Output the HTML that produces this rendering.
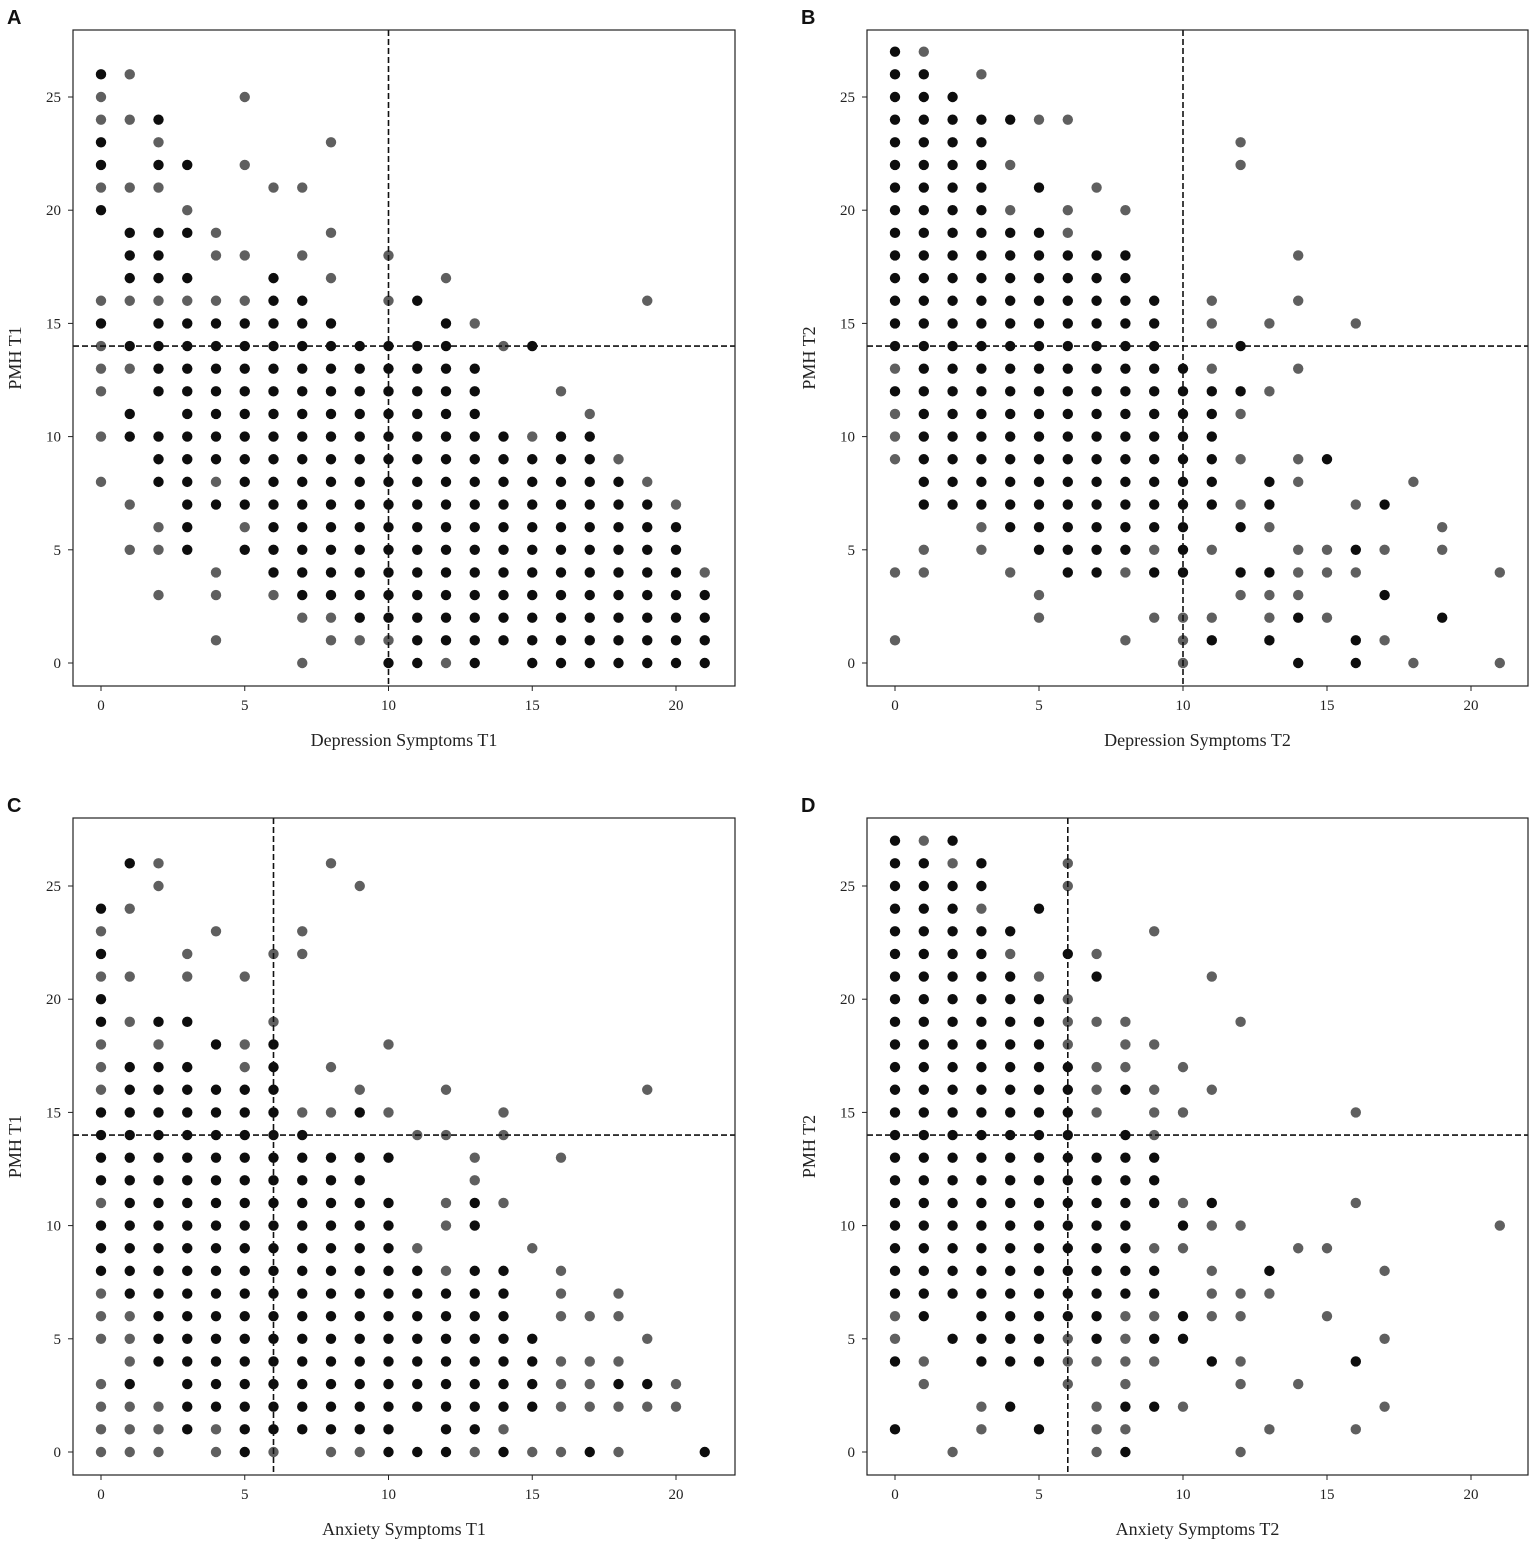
<!DOCTYPE html>
<html><head><meta charset="utf-8"><style>
body{margin:0;background:#fff}
svg{display:block}
</style></head><body>
<svg id="c" width="1535" height="1544" xmlns="http://www.w3.org/2000/svg"></svg>
<script>
// Data: each column string "x:items", item "y" = single (gray), "y*" = dense (dark), "a-b" = dense range
const panelAData = ["0:8,10,12,13,14,15*,16,20*,21,22*,23*,24,25,26*","1:5,7,10*,11*,13,14*,16,17*,18*,19*,21,24,26","2:3,5,6,8*,9*,10*,12*,13*,14*,15*,16,17*,18*,19*,21,22*,23,24*","3:5-15,16,17*,19*,20,22*","4:1,3,4,7*,8,9-15,16,18,19","5:5*,6,7-15,16,18,22,25","6:3,4-16,17*,21","7:0,2,3-16,18,21","8:1,2,3-15,17,19,23","9:1,2-14","10:0*,1,2-14,16,18","11:0*,1-14,16*","12:0,1-15,17","13:0*,1-13,15","14:1-10,14","15:0-9,10,14*","16:0-10,12","17:0-10,11","18:0-8,9","19:0-7,8,16","20:0-6,7","21:0-3,4"];
const panelBData = ["0:1,4,9,10,11,12*,13,14*,15-27","1:4,5,7-26,27","2:7-25","3:5,6,7-24,26","4:4,6-19,20,22,24*","5:2,3,5-19,21*,24","6:4-18,19,20,24","7:4-18,21","8:1,4,5-18,20","9:2,4*,5,6-16","10:0,1,2,4-13","11:1*,2,5,7-12,13,15,16","12:3,4*,6*,7,9,11,12*,14*,22,23","13:1*,2,3,4*,6,7*,8*,12,15","14:0*,2*,3,4,5,8,9,13,16,18","15:2,4,5,9*","16:0*,1*,4,5*,7,15","17:1,3*,5,7*","18:0,8","19:2*,5,6","21:0,4"];
const panelCData = ["0:0,1,2,3,5,6,7,8*,9*,10*,11,12*,13*,14*,15*,16,17,18,19*,20*,21,22*,23,24*","1:0,1,2,3*,4,5,6,7-17,19,21,24,26*","2:0,1,2,4-17,18,19*,25,26","3:1-17,19*,21,22","4:0,1,2-16,18*,23","5:0-16,17,18,21","6:0,1-18,19,22","7:1-14,15,22,23","8:0,1-13,15,17,26","9:0,1-13,15*,16,25","10:0-11,13*,15,18","11:0*,2-8,9,14","12:0*,1-7,8,10,11,14,16","13:0,1-8,10*,11*,12,13","14:0*,1,2-8,11,14,15","15:0,2-5,9","16:0,2,3,4,6,7,8,13","17:0*,2,3,4,6","18:0,2,3*,4,6,7","19:2,3*,5,16","20:2,3","21:0*"];
const panelDData = ["0:1*,4*,5,6,7*,8-27","1:3,4,6-26,27","2:0,5*,7-25,26,27*","3:1,2,4-23,24,25*,26*","4:2*,4-21,22,23*","5:1*,4-20,21,24*","6:3,4,5,6-17,18,19,20,22*,25,26","7:0,1,2,4,5-13,15,16,17,19,21*,22","8:0*,1,2*,3,4,5,6,7-14,16*,17,18,19","9:2*,4,5*,6,7*,8*,9,11*,12*,13*,14,15,16,18,23","10:2,5*,6*,9,10*,11,15,17","11:4*,6,7,8,10,11*,16,21","12:0,3,4,6,7,10,19","13:1,7,8*","14:3,9","15:6,9","16:1,4*,11,15","17:2,5,8","21:10"];
const xTicks = [0,5,10,15,20];
const yTicks = [0,5,10,15,20,25];
const panels = [
 {id:"a",label:"A",data:panelAData,xl:"Depression Symptoms T1",yl:"PMH T1",vx:10,hy:14,L:73,R:735,T:30,B:686,x0:101,xs:28.75,y0:663},
 {id:"b",label:"B",data:panelBData,xl:"Depression Symptoms T2",yl:"PMH T2",vx:10,hy:14,L:867,R:1528,T:30,B:686,x0:895,xs:28.8,y0:663},
 {id:"c",label:"C",data:panelCData,xl:"Anxiety Symptoms T1",yl:"PMH T1",vx:6,hy:14,L:73,R:735,T:818,B:1475,x0:101,xs:28.75,y0:1452},
 {id:"d",label:"D",data:panelDData,xl:"Anxiety Symptoms T2",yl:"PMH T2",vx:6,hy:14,L:867,R:1528,T:818,B:1475,x0:895,xs:28.8,y0:1452}
];
const NS="http://www.w3.org/2000/svg";
const svg=document.getElementById('c');
function mk(tag,attrs,parent){const e=document.createElementNS(NS,tag);for(const k in attrs)e.setAttribute(k,attrs[k]);(parent||svg).appendChild(e);return e;}
const serif='"Liberation Serif", serif';
panels.forEach(p=>{
 const g=mk('g',{});
 
 
 const X=v=>p.x0+v*p.xs, Y=v=>p.y0-v*22.64;
 const pts=mk('g',{},g);
 
 
 p.data.forEach(col=>{
  const [xs,rest]=col.split(':');const x=+xs;
  rest.split(',').forEach(it=>{
   let list=[];
   if(it.includes('-')){const [a,b]=it.split('-').map(Number);for(let y=a;y<=b;y++)list.push([y,true]);}
   else list.push([parseFloat(it),it.endsWith('*')]);
   list.forEach(([y,d])=>{
    const c=mk('circle',{cx:X(x),cy:Y(y),r:5.2,fill:d?'#0d0d0d':'#5f5f5f'},pts);
    
    
   });
  });
 });
 const vl=mk('line',{x1:X(p.vx),x2:X(p.vx),y1:p.T,y2:p.B,stroke:'#111','stroke-width':1.6,'stroke-dasharray':'6,3'},g);
 
 
 const hl=mk('line',{x1:p.L,x2:p.R,y1:Y(p.hy),y2:Y(p.hy),stroke:'#111','stroke-width':1.6,'stroke-dasharray':'6,3'},g);
 
 
 const fr=mk('rect',{x:p.L,y:p.T,width:p.R-p.L,height:p.B-p.T,fill:'none',stroke:'#222','stroke-width':1.2},g);
 
 
 xTicks.forEach(t=>{
  mk('line',{x1:X(t),x2:X(t),y1:p.B,y2:p.B+5,stroke:'#222'},g);
  const tx=mk('text',{x:X(t),y:p.B+24,'text-anchor':'middle','font-family':serif,'font-size':15,fill:'#222'},g);
  tx.textContent=t;
  
  
 });
 yTicks.forEach(t=>{
  mk('line',{x1:p.L-5,x2:p.L,y1:Y(t),y2:Y(t),stroke:'#222'},g);
  const tx=mk('text',{x:p.L-12,y:Y(t)+5,'text-anchor':'end','font-family':serif,'font-size':15,fill:'#222'},g);
  tx.textContent=t;
  
  
 });
 const xt=mk('text',{x:(p.L+p.R)/2,y:p.B+60,'text-anchor':'middle','font-family':serif,'font-size':18,fill:'#222'},g);
 xt.textContent=p.xl;
 
 
 const cy=(p.T+p.B)/2, cx=p.L-52;
 const yt=mk('text',{x:cx,y:cy,'text-anchor':'middle','font-family':serif,'font-size':18,fill:'#222',transform:`rotate(-90 ${cx} ${cy})`},g);
 yt.textContent=p.yl;
 
 
 const lb=mk('text',{x:p.L-66,y:p.T-6,'font-family':'"Liberation Sans", sans-serif','font-size':20,'font-weight':'bold',fill:'#111'},g);
 lb.textContent=p.label;
 
 
});
</script>
</body></html>
